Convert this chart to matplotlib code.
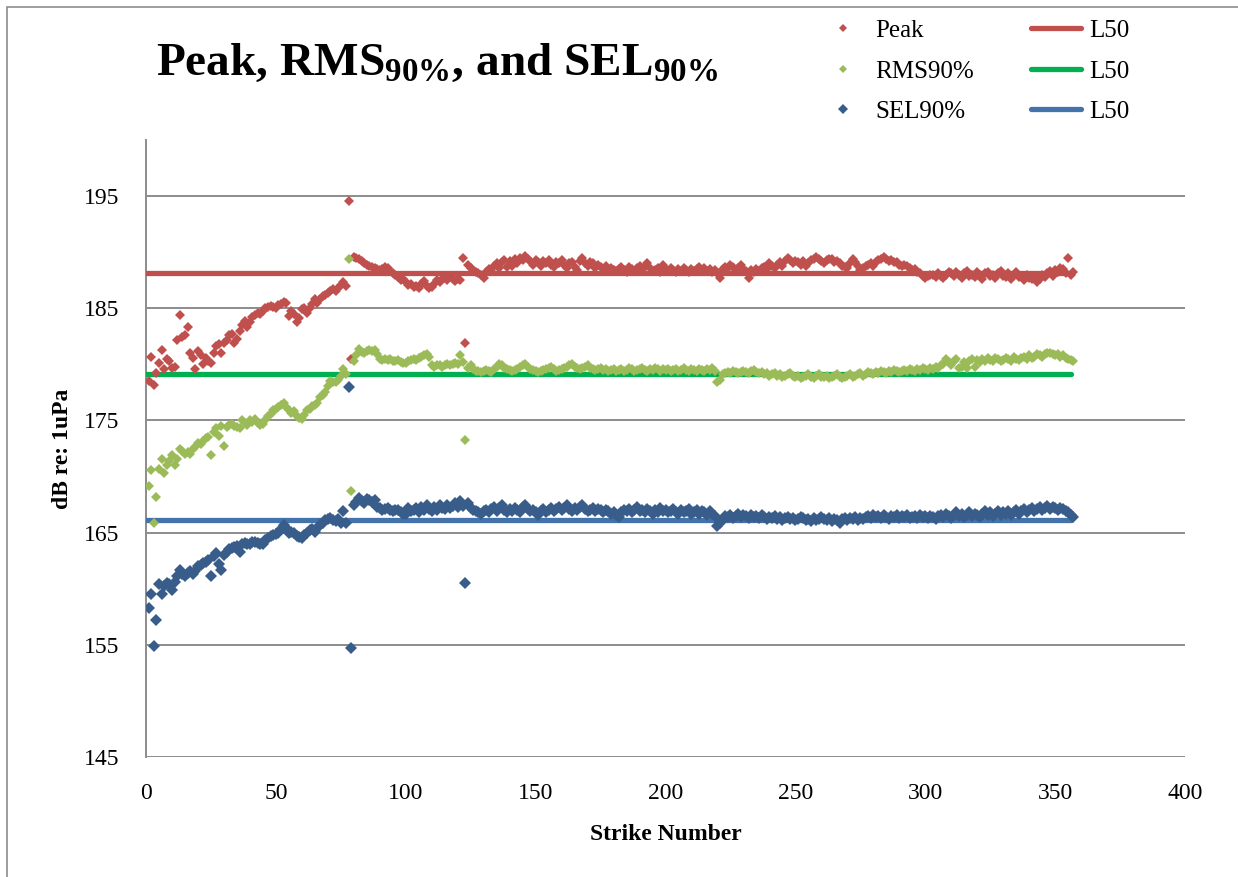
import numpy as np
import matplotlib
matplotlib.use("Agg")
import matplotlib.pyplot as plt
from matplotlib.patches import Rectangle

# ---------------- data ----------------
peak = [
    178.5, 180.7, 178.2, 179.2, 180.1, 181.3, 179.6, 180.5, 180.3, 179.7,
    179.8, 182.2, 184.4, 182.4, 182.6, 183.3, 181.0, 180.6, 179.6, 181.2,
    180.8, 180.0, 180.6, 180.3, 180.1, 181.0, 181.6, 181.8, 181.0, 181.9,
    182.2, 182.6, 182.7, 181.9, 182.3, 183.0, 183.5, 183.9, 183.3, 183.8,
    184.2, 184.4, 184.6, 184.5, 184.8, 185.0, 185.1, 185.2, 185.1, 185.0,
    185.3, 185.4, 185.6, 185.5, 184.3, 184.8, 184.5, 183.8, 184.1, 184.9,
    185.0, 184.6, 185.0, 185.4, 185.8, 185.5, 185.8, 186.1, 186.2, 186.4,
    186.5, 186.7, 186.5, 186.8, 187.1, 187.3, 187.0, 194.6, 180.5, 189.6,
    189.5, 189.4, 189.2, 189.0, 188.9, 188.8, 188.7, 188.6, 188.5, 188.4,
    188.5, 188.7, 188.6, 188.3, 188.1, 188.0, 187.8, 187.5, 187.6, 187.3,
    187.1, 187.2, 186.9, 187.0, 186.8, 187.2, 187.4, 187.0, 186.8, 186.9,
    187.2, 187.5, 187.3, 187.6, 187.7, 187.5, 187.8, 187.6, 187.4, 187.6,
    187.5, 189.5, 181.9, 188.9, 188.6, 188.4, 188.2, 188.1, 188.0, 187.7,
    188.2, 188.5, 188.3, 188.8, 189.0, 188.6, 189.1, 189.3, 188.7, 189.2,
    188.8, 189.4, 189.0, 189.5, 189.3, 189.7, 189.4, 189.2, 188.9, 189.3,
    189.1, 188.8, 189.2, 189.0, 189.3, 188.9, 188.7, 189.1, 189.0, 189.3,
    188.9, 188.6, 189.0, 189.1, 188.7, 188.4, 189.2, 189.5, 189.0, 188.8,
    189.1, 189.0, 188.6, 188.9, 188.7, 188.5, 188.8, 188.4, 188.6, 188.4,
    188.3, 188.5, 188.7, 188.4, 188.2, 188.7, 188.5, 188.3, 188.6, 188.8,
    188.5, 188.7, 189.0, 188.6, 188.3, 188.4, 188.6, 188.2, 188.9, 188.5,
    188.3, 188.6, 188.4, 188.2, 188.5, 188.3, 188.6, 188.4, 188.2, 188.5,
    188.3, 188.5, 188.7, 188.4, 188.6, 188.3, 188.5, 188.2, 188.4, 188.1,
    187.7, 188.5, 188.7, 188.6, 188.9, 188.7, 188.4, 188.6, 188.9, 188.5,
    188.3, 187.7, 188.4, 188.2, 188.5, 188.3, 188.6, 188.7, 188.5, 189.0,
    188.8, 188.6, 188.9, 189.1, 188.8, 189.2, 189.5, 189.3, 189.0, 189.2,
    189.1, 188.9, 189.2, 188.8, 189.0, 189.3, 189.4, 189.6, 189.4, 189.2,
    189.0, 189.3, 189.4, 189.4, 189.1, 189.2, 189.0, 188.8, 188.7, 188.6,
    189.0, 189.4, 189.1, 188.8, 188.4, 188.6, 188.8, 188.9, 189.0, 188.8,
    189.1, 189.3, 189.4, 189.6, 189.4, 189.2, 189.3, 189.1, 189.1, 188.9,
    188.8, 188.9, 188.8, 188.6, 188.4, 188.5, 188.2, 188.1, 187.9, 187.7,
    187.9, 188.0, 188.0, 187.8, 188.1, 187.9, 187.7, 188.0, 188.2, 188.1,
    187.9, 188.2, 188.0, 187.7, 188.1, 188.3, 187.9, 188.0, 187.8, 188.2,
    188.0, 187.6, 188.1, 188.2, 187.9, 188.0, 187.7, 188.1, 188.3, 187.9,
    187.8, 188.1, 187.6, 188.0, 188.2, 187.8, 187.9, 187.5, 188.0, 187.7,
    187.6, 187.9, 187.3, 187.6, 188.0, 187.8, 188.1, 188.3, 187.9, 188.4,
    188.2, 188.6, 188.5, 188.1, 189.5, 188.0, 188.2,
]

rms90 = [
    169.2, 170.6, 165.9, 168.2, 170.7, 171.6, 170.3, 171.0, 171.4, 171.9,
    171.0, 171.6, 172.5, 172.3, 172.0, 172.2, 172.0, 172.5, 172.6, 173.0,
    172.9, 173.2, 173.4, 173.5, 171.9, 174.0, 174.3, 173.6, 174.5, 172.7,
    174.4, 174.6, 174.7, 174.5, 174.4, 174.3, 175.0, 174.8, 174.6, 175.0,
    174.9, 175.1, 174.8, 174.6, 174.7, 175.0, 175.4, 175.6, 175.9, 176.0,
    176.2, 176.4, 176.6, 176.2, 175.9, 175.7, 175.8, 175.4, 175.2, 175.1,
    175.5, 175.9, 176.0, 176.3, 176.4, 176.6, 177.1, 177.3, 177.5, 178.1,
    178.5, 178.4, 178.4, 178.6, 179.0, 179.6, 179.1, 189.4, 168.7, 180.3,
    180.8, 181.4, 181.1, 181.0, 181.2, 181.3, 181.2, 181.3, 180.9, 180.5,
    180.4, 180.5, 180.4, 180.5, 180.3, 180.3, 180.4, 180.2, 180.1, 180.1,
    180.3, 180.4, 180.5, 180.4, 180.6, 180.7, 180.8, 180.9, 180.7, 179.9,
    179.8, 179.9, 179.9, 179.8, 179.9, 180.0, 179.9, 180.0, 180.1, 180.0,
    180.8, 180.2, 173.3, 179.7, 179.9, 179.6, 179.4, 179.4, 179.3, 179.4,
    179.5, 179.4, 179.3, 179.6, 179.8, 180.0, 179.9, 179.7, 179.6, 179.5,
    179.4, 179.5, 179.6, 179.8, 179.9, 180.0, 179.8, 179.6, 179.5, 179.4,
    179.3, 179.4, 179.5, 179.6, 179.7, 179.8, 179.6, 179.4, 179.5, 179.6,
    179.7, 179.8, 179.9, 180.0, 179.8, 179.7, 179.6, 179.7, 179.8, 179.9,
    179.7, 179.6, 179.5, 179.6, 179.7, 179.5, 179.6, 179.4, 179.5, 179.6,
    179.4, 179.5, 179.6, 179.4, 179.5, 179.7, 179.6, 179.4, 179.5, 179.6,
    179.7, 179.5, 179.4, 179.6, 179.5, 179.7, 179.6, 179.4, 179.6, 179.5,
    179.6, 179.4, 179.5, 179.6, 179.4, 179.5, 179.7, 179.5, 179.4, 179.6,
    179.5, 179.4, 179.6, 179.5, 179.4, 179.6, 179.5, 179.7, 179.4, 178.4,
    178.6, 179.1, 179.2, 179.3, 179.2, 179.4, 179.3, 179.2, 179.3, 179.4,
    179.3, 179.2, 179.4, 179.5, 179.3, 179.2, 179.3, 179.1, 179.2, 179.0,
    179.1, 179.2, 179.0, 179.1, 178.9, 179.0, 179.1, 179.2, 179.0, 178.9,
    179.0, 178.8, 178.9, 179.0, 179.1, 178.9, 178.8, 179.0, 179.1, 178.9,
    178.9, 179.0, 178.8, 178.9, 179.0, 179.1, 178.9, 178.8, 178.9, 179.0,
    179.1, 178.9, 179.0, 179.1, 179.2, 179.0, 179.1, 179.3, 179.2, 179.1,
    179.3, 179.2, 179.4, 179.3, 179.2, 179.4, 179.3, 179.5, 179.4, 179.3,
    179.4, 179.5, 179.4, 179.6, 179.5, 179.4, 179.6, 179.5, 179.7, 179.6,
    179.5, 179.7, 179.6, 179.8, 179.7, 179.9, 180.0, 180.5, 180.2, 179.9,
    180.3, 180.5, 179.7, 179.8, 180.2, 179.7, 180.3, 180.5, 179.8, 180.4,
    180.2, 180.5, 180.3, 180.6, 180.4, 180.3, 180.6, 180.5, 180.3, 180.4,
    180.6, 180.5, 180.3, 180.7, 180.5, 180.4, 180.6, 180.7, 180.5, 180.8,
    180.6, 180.7, 180.9, 180.8, 180.7, 180.9, 181.0, 181.0, 180.9, 180.8,
    180.9, 180.7, 180.8, 180.6, 180.5, 180.4, 180.3,
]

sel90 = [
    158.3, 159.5, 154.9, 157.2, 160.4, 159.5, 160.2, 160.5, 160.4, 159.9,
    160.6, 161.1, 161.7, 161.3, 161.1, 161.4, 161.6, 161.3, 161.6, 162.0,
    162.1, 162.3, 162.4, 162.6, 161.1, 162.9, 163.2, 162.2, 161.7, 163.0,
    163.3, 163.5, 163.6, 163.7, 163.8, 163.3, 164.0, 164.1, 164.0, 164.0,
    164.2, 164.2, 164.1, 164.0, 164.0, 164.3, 164.5, 164.7, 164.8, 164.9,
    165.0, 165.3, 165.7, 165.4, 165.0, 165.1, 165.0, 164.7, 164.6, 164.5,
    164.8, 165.0, 165.2, 165.3, 165.1, 165.4, 165.7, 165.9, 166.1, 166.2,
    166.3, 166.1, 166.0, 166.2, 165.9, 166.9, 165.9, 178.0, 154.7, 167.5,
    167.7, 168.1, 167.8, 167.6, 168.0, 167.9, 167.7, 167.9, 167.3, 167.2,
    167.0, 167.1, 167.2, 167.0, 166.9, 167.0, 167.0, 166.8, 166.7, 166.7,
    167.2, 166.9, 167.0, 167.2, 166.8, 167.3, 167.0, 167.5, 167.1, 166.9,
    167.3, 167.0, 167.5, 167.2, 167.1, 167.5, 167.2, 167.4, 167.6, 167.3,
    167.8, 167.4, 160.5, 167.6, 167.2, 167.0, 166.9, 166.8, 166.7, 166.9,
    167.0, 166.8, 167.1, 167.3, 166.9, 167.2, 167.5, 167.0, 166.8, 167.1,
    166.9, 167.2, 167.0, 166.8, 167.3, 167.5, 167.1, 166.9, 167.0, 166.8,
    166.6, 166.9, 167.1, 166.8, 167.0, 167.2, 166.9, 167.1, 167.3, 167.0,
    167.2, 167.5, 167.1, 166.9, 167.2, 167.0, 167.3, 167.5, 167.1, 166.9,
    167.0, 167.2, 166.9, 167.1, 167.0, 166.8, 167.0, 166.9, 166.7, 166.8,
    166.6, 166.4, 166.8, 167.0, 166.9, 167.1, 166.8, 167.0, 167.3, 166.9,
    167.0, 166.8, 167.1, 166.9, 166.7, 167.0, 166.8, 167.2, 166.9, 167.0,
    166.8, 166.9, 167.1, 166.8, 166.7, 167.0, 166.8, 166.9, 167.1, 166.7,
    166.8, 167.0, 166.7, 166.9, 166.8, 166.6, 166.9, 166.7, 166.5, 165.6,
    165.9, 166.2, 166.5, 166.4, 166.6, 166.3, 166.5, 166.7, 166.4, 166.6,
    166.5, 166.3, 166.6, 166.4, 166.5, 166.3, 166.6, 166.4, 166.2, 166.4,
    166.3, 166.5, 166.2, 166.4, 166.1, 166.3, 166.4, 166.2, 166.3, 166.1,
    166.2, 166.4, 166.3, 166.1, 166.2, 166.0, 166.3, 166.1, 166.2, 166.4,
    166.2, 166.1, 166.3, 166.0, 166.2, 166.1, 165.9, 166.2, 166.3, 166.1,
    166.3, 166.2, 166.4, 166.1, 166.3, 166.2, 166.4, 166.5, 166.3, 166.6,
    166.4, 166.5, 166.3, 166.6, 166.4, 166.2, 166.5, 166.4, 166.6, 166.3,
    166.5, 166.4, 166.6, 166.3, 166.4, 166.5, 166.3, 166.6, 166.4, 166.5,
    166.3, 166.5, 166.4, 166.2, 166.5, 166.6, 166.4, 166.7, 166.5, 166.3,
    166.6, 166.8, 166.5, 166.7, 166.4, 166.6, 166.8, 166.5, 166.7, 166.6,
    166.4, 166.7, 166.9, 166.6, 166.8, 166.5, 166.7, 166.9, 166.6, 166.8,
    166.7, 166.9, 166.6, 166.8, 167.0, 166.7, 166.9, 167.1, 166.8, 167.0,
    167.2, 166.9, 167.1, 167.3, 167.0, 167.2, 167.4, 167.1, 167.3, 167.2,
    167.0, 167.2, 167.1, 166.9, 166.8, 166.6, 166.4,
]

l50_peak = 188.1
l50_rms = 179.1
l50_sel = 166.1
l50_span = [0, 356]

x_ticks = [0, 50, 100, 150, 200, 250, 300, 350, 400]
y_ticks = [145, 155, 165, 175, 185, 195]

# ---------------- style ----------------
SERIF = ["Liberation Serif", "DejaVu Serif"]
plt.rcParams["font.family"] = SERIF
plt.rcParams["mathtext.fontset"] = "custom"
plt.rcParams["mathtext.rm"] = "Liberation Serif:bold"
plt.rcParams["mathtext.bf"] = "Liberation Serif:bold"

C_PEAK = "#C0504D"
C_RMS = "#9BBB59"
C_SEL = "#385D8A"
L_PEAK = "#C0504D"
L_RMS = "#00B050"
L_SEL = "#4472AA"
GRID = "#8C8C8C"

W, H = 1238, 877
fig = plt.figure(figsize=(W / 100, H / 100), dpi=100)

# outer frame (chart area border)
fig.patches.append(Rectangle((7 / W, -0.1), 1.2, 1 - 7 / H + 0.1,
                             transform=fig.transFigure, fill=False,
                             edgecolor="#8C8C8C", linewidth=1.2))

ax = fig.add_axes([146 / W, 1 - 757 / H, (1185 - 146) / W, (757 - 140) / H])

xs_p = np.arange(1, len(peak) + 1)
xs_r = np.arange(1, len(rms90) + 1)
xs_s = np.arange(1, len(sel90) + 1)

hp, = ax.plot(xs_p, peak, linestyle="none", marker="D", markersize=5.0,
              color=C_PEAK, markeredgewidth=0, zorder=4)
hr, = ax.plot(xs_r, rms90, linestyle="none", marker="D", markersize=5.0,
              color=C_RMS, markeredgewidth=0, zorder=4)
hs, = ax.plot(xs_s, sel90, linestyle="none", marker="D", markersize=6.0,
              color=C_SEL, markeredgewidth=0, zorder=4)

lp, = ax.plot(l50_span, [l50_peak, l50_peak], color=L_PEAK, lw=3.8,
              solid_capstyle="round", zorder=3)
lr, = ax.plot(l50_span, [l50_rms, l50_rms], color=L_RMS, lw=3.8,
              solid_capstyle="round", zorder=3)
ls, = ax.plot(l50_span, [l50_sel, l50_sel], color=L_SEL, lw=3.8,
              solid_capstyle="round", zorder=3)

ax.set_xlim(0, 400)
ax.set_ylim(145, 200)
ax.set_xticks(x_ticks)
ax.set_yticks(y_ticks)
ax.yaxis.grid(True, color=GRID, linewidth=1.4)
ax.set_axisbelow(True)
for s in ["top", "right", "bottom"]:
    ax.spines[s].set_visible(False)
ax.spines["left"].set_color(GRID)
ax.spines["left"].set_linewidth(1.4)
ax.tick_params(axis="both", length=0, labelsize=17, colors="black")
ax.tick_params(axis="y", pad=19)
ax.tick_params(axis="x", pad=19)

ax.set_xlabel("Strike Number", fontsize=17, fontweight="bold", labelpad=14)
ax.set_ylabel("dB re: 1uPa", fontsize=17, fontweight="bold", labelpad=8)

fig.text(156 / W, 1 - 75 / H,
         r"Peak, RMS$\mathdefault{_{90\%}}$, and SEL$\mathdefault{_{90\%}}$",
         fontsize=34, fontweight="bold", ha="left", va="baseline")

leg = fig.legend([hp, hr, hs, lp, lr, ls],
                 ["Peak", "RMS90%", "SEL90%", "L50", "L50", "L50"],
                 ncol=2, loc="upper left",
                 bbox_to_anchor=(800 / W, 1 - 2 / H),
                 frameon=False, fontsize=18, handlelength=2.0,
                 handletextpad=0.3, columnspacing=2.3, labelspacing=0.72,
                 borderpad=0.2, markerscale=0.8)

fig.savefig("out.png", dpi=100)
